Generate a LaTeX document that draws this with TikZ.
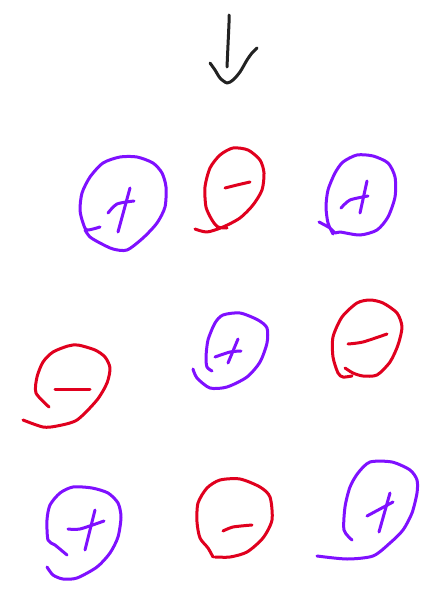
\documentclass[tikz,border=0pt]{standalone}
\definecolor{inkpurple}{HTML}{7F10FF}
\definecolor{inkred}{HTML}{E0001E}
\definecolor{inkblack}{HTML}{222222}
\begin{document}
\begin{tikzpicture}[x=1pt,y=-1pt,
  pen/.style={line width=3pt,line cap=round,line join=round},
  plusink/.style={pen,inkpurple},
  minusink/.style={pen,inkred},
  blackink/.style={pen,inkblack},
  sm/.style={smooth,tension=0.45}]
\useasboundingbox[fill=white] (0,0) rectangle (427,589);
% arrow
\draw[blackink] plot[sm] coordinates {(229,15) (229,23) (228,45) (227,67)};
\draw[blackink] plot[sm] coordinates {(210,63) (215,70) (220,78) (227,83) (233,80) (240,72) (247,60) (252,53) (257,48)};
% circle 1 (+)
\draw[plusink] plot[sm] coordinates {(100,227) (87,230) (83,223) (80,210) (82,193) (90,177) (103,163) (120,157) (137,157) (153,163) (162,173) (166,187) (165,207) (157,223) (143,238) (127,250) (113,249) (100,243) (90,237) (85,230)};
\draw[plusink] (130,188) -- (118,232);
\draw[plusink] plot[sm] coordinates {(108,213) (117,204) (134,201)};
% circle 2 (-)
\draw[minusink] plot[sm] coordinates {(195,229) (207,232) (223,227) (240,218) (253,205) (262,190) (264,173) (260,160) (248,150) (233,148) (220,155) (210,168) (205,187) (206,207) (212,220) (218,227) (227,228)};
\draw[minusink] plot[sm] coordinates {(225,188) (237,185) (250,182)};
% circle 3 (+)
\draw[plusink] plot[sm] coordinates {(319,222) (330,228) (335,233) (340,232) (360,235) (377,230) (388,217) (395,197) (395,177) (388,163) (373,156) (357,155) (343,162) (335,173) (328,190) (326,207) (328,223) (333,234)};
\draw[plusink] (367,181) -- (360,213);
\draw[plusink] plot[sm] coordinates {(341,208) (350,200) (368,196)};
% circle 4 (-)
\draw[minusink] plot[sm] coordinates {(23,420) (43,427) (57,426) (77,420) (97,400) (107,383) (110,368) (105,357) (95,350) (78,345) (68,346) (53,352) (43,362) (37,377) (36,393) (49,407)};
\draw[minusink] (55,389) -- (90,389);
% circle 5 (+)
\draw[plusink] plot[sm] coordinates {(193,369) (197,378) (210,388) (227,387) (247,377) (260,362) (267,343) (267,328) (258,320) (240,313) (223,315) (215,323) (208,340) (206,357) (207,367) (212,371)};
\draw[plusink] (238,339) -- (228,363);
\draw[plusink] plot[sm] coordinates {(215,357) (230,352) (241,351)};
% circle 6 (-)
\draw[minusink] plot[sm] coordinates {(345,368) (353,373) (363,376) (377,375) (390,362) (398,345) (402,327) (397,313) (383,303) (370,300) (357,303) (342,317) (333,337) (333,357) (338,373) (343,377) (352,376)};
\draw[minusink] plot[sm] coordinates {(348,344) (363,342) (387,334)};
% circle 7 (+)
\draw[plusink] plot[sm] coordinates {(47,567) (53,575) (63,579) (77,578) (97,567) (110,553) (118,537) (121,517) (118,503) (108,493) (92,488) (73,487) (60,493) (50,505) (47,520) (48,540) (55,545) (67,555)};
\draw[plusink] (95,510) -- (85,550);
\draw[plusink] plot[sm] coordinates {(68,529) (80,529) (104,521)};
% circle 8 (-)
\draw[minusink] plot[sm] coordinates {(215,557) (230,557) (247,552) (263,538) (272,520) (270,497) (260,487) (240,479) (220,480) (207,488) (198,503) (197,522) (200,538) (208,548) (213,557)};
\draw[minusink] plot[sm] coordinates {(223,531) (233,527) (252,525)};
% circle 9 (+)
\draw[plusink] plot[sm] coordinates {(317,556) (347,559) (373,556) (390,543) (403,530) (412,513) (417,493) (417,480) (410,470) (392,462) (370,462) (358,473) (350,487) (345,507) (344,530) (352,540)};
\draw[plusink] (390,493) -- (379,532);
\draw[plusink] plot[sm] coordinates {(367,516) (380,509) (393,502)};
\end{tikzpicture}
\end{document}
